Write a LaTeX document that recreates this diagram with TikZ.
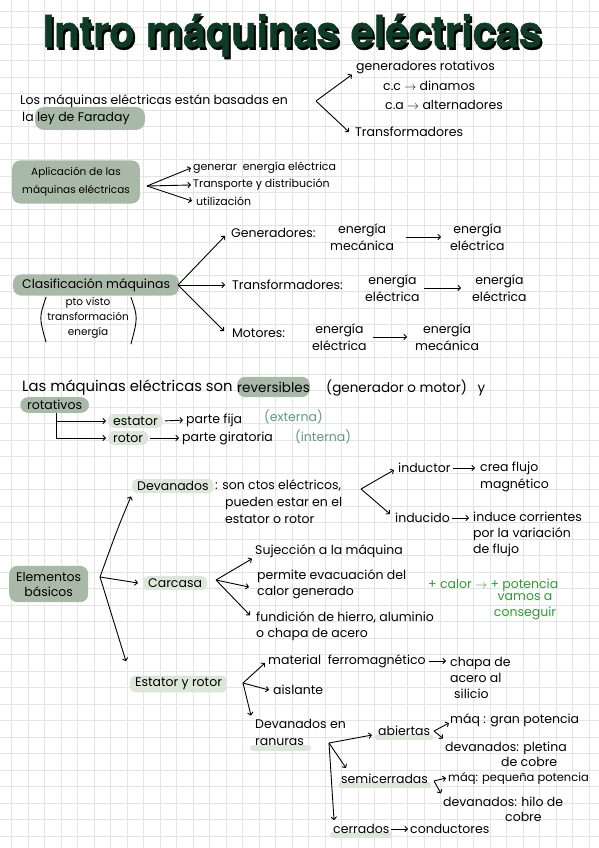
\documentclass[tikz,border=0pt]{standalone}
\usepackage{fontspec}
\setmainfont{Poppins}
\newfontfamily\maqtitlefont[FakeBold=1.2]{TeX Gyre Heros}
\usepackage{tikz}
\usetikzlibrary{arrows.meta,backgrounds,calc,positioning}
\definecolor{maqtitle}{HTML}{0D3B25}
\definecolor{maqsage}{HTML}{A9B9A7}
\definecolor{maqpale}{HTML}{DCE7D9}
\definecolor{maqteal}{HTML}{5E9C7C}
\definecolor{maqgreen}{HTML}{2E9A35}
\definecolor{maqgrid}{HTML}{E4E4E4}
\tikzset{%
  maqtext/.style={%
    anchor=west,
    inner sep=0pt,
    align=left,
    font=\fontsize{12.5}{17}\selectfont
  },
  maqmid/.style={%
    maqtext,
    font=\fontsize{11}{15}\selectfont
  },
  maqsmall/.style={%
    maqtext,
    font=\fontsize{10.5}{15}\selectfont
  },
  maqbig/.style={%
    maqtext,
    font=\fontsize{13.5}{17}\selectfont
  },
  maqkey/.style={%
    maqtext,
    fill=maqsage,
    rounded corners=8pt,
    inner xsep=7pt,
    inner ysep=4pt,
    align=center
  },
  maqsoft/.style={%
    maqtext,
    fill=maqpale,
    rounded corners=5pt,
    inner xsep=5pt,
    inner ysep=2.5pt
  },
  maqnote/.style={maqtext,text=maqteal},
  maqplus/.style={maqtext,text=maqgreen},
  maqheading/.style={anchor=base west,inner sep=0pt,font=\maqtitlefont\bfseries\fontsize{44}{44}\selectfont},
  maqarrow/.style={-{Straight Barb[length=2.6pt,width=5.5pt]},line width=0.9pt},
  maqunder/.style={line width=6pt,draw=maqpale,line cap=round}
}
\begin{document}
\begin{tikzpicture}[x=1pt,y=-1pt]
  \useasboundingbox (0,0) rectangle (599,848);
  % squared paper
  \begin{scope}[on background layer]
    \fill[white] (0,0) rectangle (599,848);
    \foreach \g in {11.5,28,...,599} \draw[maqgrid,line width=0.7pt] (\g,0) -- (\g,848);
    \foreach \g in {11.3,27.8,...,848} \draw[maqgrid,line width=0.7pt] (0,\g) -- (599,\g);
  \end{scope}

  % title
  \node[maqheading,text=black] (titleshadow) at (44.5,49.5) {\scalebox{0.94}[1]{Intro máquinas eléctricas}};
  \node[maqheading,text=maqtitle] (title) at (42.5,47) {\scalebox{0.94}[1]{Intro máquinas eléctricas}};

  % Faraday
  \node[maqtext] (basadas) at (20,101) {Los máquinas eléctricas están basadas en};
  \node[maqtext] (faraday) at (22,118) {la ley de Faraday};
  \coordinate (leyfork) at (316,101);
  \node[maqtext] (rotativos) at (356,67) {generadores rotativos};
  \node[maqtext] (dinamos) at (383,86) {c.c $\rightarrow$ dinamos};
  \node[maqtext] (alternadores) at (385,105) {c.a $\rightarrow$ alternadores};
  \node[maqtext] (transf) at (355,132) {Transformadores};
  \draw[maqarrow] (leyfork) -- ([xshift=-4pt,yshift=-1pt]rotativos.south west);
  \draw[maqarrow] (leyfork) -- ([xshift=-6pt]transf.west);

  % aplicaciones
  \node[maqkey,maqsmall,align=center,inner xsep=10pt,inner ysep=7pt] (aplicacion) at (12,182) {Aplicación de las\\[3pt]máquinas eléctricas};
  \coordinate (aplifork) at (147,186);
  \node[maqmid] (generar) at (193,168) {generar \ energía eléctrica};
  \node[maqmid] (transporte) at (193,185) {Transporte y distribución};
  \node[maqmid] (utilizacion) at (196,201) {utilización};
  \draw[maqarrow] (aplifork) -- ([xshift=-2pt]generar.west);
  \draw[maqarrow] (aplifork) -- ([xshift=-2pt]transporte.west);
  \draw[maqarrow] (aplifork) -- ([xshift=-4pt]utilizacion.west);

  % clasificacion
  \node[maqkey,inner xsep=9pt] (clasif) at (13,285) {Clasificación máquinas};
  \node[maqsmall,anchor=north,align=center] (ptovisto) at (88,297) {pto visto\\transformación\\energía};
  \draw[line width=0.9pt] ([xshift=-1pt]ptovisto.north west) .. controls ([xshift=-8pt]ptovisto.west) .. ([xshift=-1pt,yshift=-4pt]ptovisto.south west);
  \draw[line width=0.9pt] ([xshift=2pt]ptovisto.north east) .. controls ([xshift=9pt]ptovisto.east) .. ([xshift=2pt,yshift=-6pt]ptovisto.south east);
  \coordinate (clasfork) at (178,285);
  \node[maqtext] (generadores) at (231,233) {Generadores:};
  \node[maqtext,align=center] (genmec) at (330,237) {energía\\mecánica};
  \node[maqtext,align=center] (genele) at (450,237) {energía\\eléctrica};
  \node[maqtext] (transformadores) at (232,285) {Transformadores:};
  \node[maqtext,align=center] (trfele) at (365,288) {energía\\eléctrica};
  \node[maqtext,align=center] (trfsal) at (472,288) {energía\\eléctrica};
  \node[maqtext] (motores) at (232,333) {Motores:};
  \node[maqtext,align=center] (motele) at (312,337) {energía\\eléctrica};
  \node[maqtext,align=center] (motmec) at (415,337) {energía\\mecánica};
  \draw[maqarrow] (clasfork) -- ([xshift=-6pt,yshift=-3pt]generadores.west);
  \draw[maqarrow] (clasfork) -- ([xshift=-7pt]transformadores.west);
  \draw[maqarrow] (clasfork) -- ([xshift=-8pt,yshift=2pt]motores.west);
  \draw[maqarrow,shorten <=12pt,shorten >=9pt] (genmec.east) -- (genele.west);
  \draw[maqarrow,shorten <=4pt,shorten >=11pt] (trfele.east) -- (trfsal.west);
  \draw[maqarrow,shorten <=6pt,shorten >=8pt] (motele.east) -- (motmec.west);

  % reversibles
  \node[maqbig,font=\fontsize{14.8}{17}\selectfont] (sonlinea) at (22,388) {Las máquinas eléctricas son};
  \node[maqkey,maqbig,anchor=west,inner ysep=5pt] (reversibles) at (237,387) {reversibles};
  \node[maqbig] (genmot) at (326,388) {(generador o motor) \ \ y};
  \node[maqkey,inner ysep=3pt] (rotativas) at (20,405) {rotativos};
  \node[maqsoft] (estator) at (108,421) {estator};
  \node[maqsoft] (rotor) at (108,438) {rotor};
  \draw[maqarrow,shorten >=2pt] ([xshift=2pt]rotativas.south) |- (estator.west);
  \draw[maqarrow,shorten >=2pt] ([xshift=2pt]rotativas.south) |- (rotor.west);
  \node[maqtext] (partefija) at (186,420) {parte fija};
  \node[maqnote] (externa) at (264,417) {(externa)};
  \node[maqtext] (giratoria) at (182,438) {parte giratoria};
  \node[maqnote] (interna) at (295,437) {(interna)};
  \draw[maqarrow,shorten <=2pt,shorten >=3pt] (estator.east) -- (partefija.west);
  \draw[maqarrow,shorten <=2pt,shorten >=3pt] (rotor.east) -- (giratoria.west);

  % elementos basicos
  \node[maqkey,align=center,inner ysep=6pt] (elementos) at (9,584) {Elementos\\[-2pt]básicos};
  \coordinate (elemfork) at (100,577);
  \node[maqsoft] (devanados) at (132,486) {Devanados};
  \node[maqtext] (ctos) at (215,502) {: son ctos eléctricos,\\\hspace*{10pt}pueden estar en el\\\hspace*{10pt}estator o rotor};
  \coordinate (ctosfork) at (361,489);
  \node[maqtext] (inductor) at (398,468) {inductor};
  \node[maqtext] (creaflujo) at (480,477) {crea flujo\\magnético};
  \node[maqtext] (inducido) at (395,518) {inducido};
  \node[maqtext] (corrientes) at (473,534) {induce corrientes\\[-1pt]por la variación\\[-1pt]de flujo};
  \draw[maqarrow] (ctosfork) -- ([xshift=-4pt,yshift=-2pt]inductor.west);
  \draw[maqarrow] (ctosfork) -- ([xshift=-5pt,yshift=4pt]inducido.west);
  \draw[maqarrow,shorten <=2pt,shorten >=5pt] (inductor.east) -- (creaflujo.west |- inductor.east);
  \draw[maqarrow,shorten <=2pt,shorten >=4pt] (inducido.east) -- (corrientes.west |- inducido.east);
  \draw[maqarrow] (elemfork) .. controls (117,530) .. ([xshift=-1pt,yshift=-3pt]devanados.south west);

  \node[maqsoft] (carcasa) at (143,583) {Carcasa};
  \coordinate (carcfork) at (216,580);
  \node[maqtext] (sujecion) at (255,551) {Sujección a la máquina};
  \node[maqtext] (evacuacion) at (257,584) {permite evacuación del\\[-1pt]calor generado};
  \node[maqtext] (fundicion) at (256,626) {fundición de hierro, aluminio\\[-1pt]o chapa de acero};
  \node[maqplus] (mascalor) at (428,585) {+ calor $\rightarrow$ + potencia};
  \node[maqplus,anchor=north,align=center] (conseguir) at (525,593) {vamos a\\[-1pt]conseguir};
  \draw[maqarrow] (elemfork) -- ([xshift=-5pt]carcasa.west);
  \draw[maqarrow] (carcfork) -- ([xshift=-3pt,yshift=-1pt]sujecion.south west);
  \draw[maqarrow] (carcfork) -- ([xshift=-8pt,yshift=-3pt]evacuacion.west);
  \draw[maqarrow] (carcfork) -- ([xshift=-6pt,yshift=-4pt]fundicion.north west);

  \node[maqsoft] (estrot) at (130,684) {Estator y rotor};
  \draw[maqarrow] (elemfork) -- ([xshift=-4pt,yshift=14pt]estrot.north west);
  \coordinate (estfork) at (243,683);
  \node[maqtext] (ferro) at (268,661) {material \ ferromagnético};
  \node[maqtext] (chapa) at (450,678) {chapa de\\[-1pt]acero al\\[-1pt]\hspace*{4pt}silicio};
  \node[maqtext] (aislante) at (273,690) {aislante};
  \node[maqtext] (enranuras) at (255,732) {Devanados en\\ranuras};
  \draw[maqarrow] (estfork) -- ([xshift=-3pt,yshift=-2pt]ferro.west);
  \draw[maqarrow] (estfork) -- ([xshift=-4pt]aislante.west);
  \draw[maqarrow] (estfork) -- ([xshift=-4pt,yshift=3pt]enranuras.north west);
  \draw[maqarrow,shorten <=3pt,shorten >=4pt] (ferro.east) -- (chapa.west |- ferro.east);

  % ranuras
  \coordinate (ranfork) at (329,743);
  \node[maqtext] (abiertas) at (378,731) {abiertas};
  \node[maqtext] (semicerradas) at (341,779) {semicerradas};
  \node[maqtext] (cerrados) at (333,829) {cerrados};
  \node[maqtext] (conductores) at (410,829) {conductores};
  \draw[maqarrow] (ranfork) -- ([xshift=-6pt,yshift=-4pt]abiertas.west);
  \draw[maqarrow] (ranfork) -- ([xshift=5pt,yshift=6pt]semicerradas.north west);
  \draw[maqarrow] (ranfork) -- ([xshift=1pt,yshift=4pt]cerrados.north west);
  \draw[maqarrow,shorten <=2pt,shorten >=2pt] (cerrados.east) -- (conductores.west);

  \coordinate (abifork) at (434,731);
  \node[maqtext] (granpot) at (450,720) {máq : gran potencia};
  \node[maqtext] (pletina) at (445,754) {devanados: pletina\\[-2pt]\hspace*{56pt}de cobre};
  \draw[maqarrow] (abifork) -- ([xshift=-1pt,yshift=-3pt]granpot.west);
  \draw[maqarrow] (abifork) -- ([xshift=-2pt,yshift=3pt]pletina.north west);

  \coordinate (semifork) at (434,781);
  \node[maqtext,font=\fontsize{11.5}{15}\selectfont] (peqpot) at (448,778) {máq: pequeña potencia};
  \node[maqtext] (hilo) at (443,809) {devanados: hilo de\\[-2pt]\hspace*{62pt}cobre};
  \draw[maqarrow] (semifork) -- ([xshift=-2pt]peqpot.west);
  \draw[maqarrow] (semifork) -- ([xshift=-2pt,yshift=3pt]hilo.north west);

  % highlights behind the texts
  \begin{scope}[on background layer]
    \fill[maqsage,rounded corners=9pt] (35,107) rectangle (145,130);
    \draw[maqunder] ([xshift=-2pt,yshift=-3pt]enranuras.south west) -- ([xshift=-38pt,yshift=-3pt]enranuras.south east);
    \draw[maqunder] ([yshift=-1pt]abiertas.south west) -- ([yshift=-1pt]abiertas.south east);
    \draw[maqunder] ([yshift=-1pt]semicerradas.south west) -- ([yshift=-1pt]semicerradas.south east);
    \draw[maqunder] ([yshift=-1pt]cerrados.south west) -- ([yshift=-1pt]cerrados.south east);
  \end{scope}
\end{tikzpicture}
\end{document}
